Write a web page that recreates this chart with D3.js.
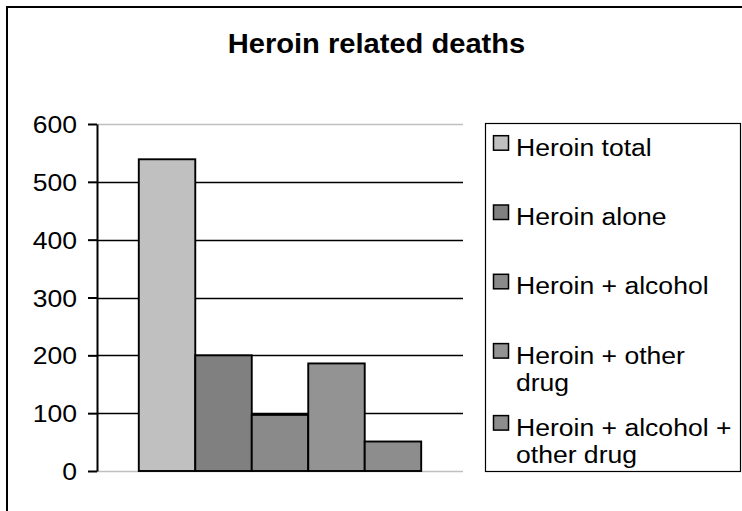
<!DOCTYPE html>
<html>
<head>
<meta charset="utf-8">
<script src="https://cdn.jsdelivr.net/npm/d3@7"></script>
<style>
  body { margin: 0; background: #fff; }
  svg { display: block; }
  text { font-family: "Liberation Sans", Arial, sans-serif; fill: #000; }
</style>
</head>
<body>
<div id="canvas"></div>
<script>
// data
var categories = ['Heroin total', 'Heroin alone', 'Heroin + alcohol', 'Heroin + other drug', 'Heroin + alcohol + other drug'];
var values = [539, 200, 97, 186, 51];
var colors = ['#c0c0c0', '#808080', '#8a8a8a', '#939393', '#8d8d8d'];
var legendLines = [['Heroin total'], ['Heroin alone'], ['Heroin + alcohol'], ['Heroin + other', 'drug'], ['Heroin + alcohol +', 'other drug']];
var yTicks = [0, 100, 200, 300, 400, 500, 600];
var title = 'Heroin related deaths';

var W = 742, H = 511,
    plot = {l: 97, r: 463, t: 124, b: 471},
    sx = 1.13; // text in the source is a bit wide

var svg = d3.select('#canvas')
  .append('svg')
  .attr('width', W)
  .attr('height', H);

// outer frame (only top + left show)
svg.append('path')
  .attr('d', 'M7,' + (H + 5) + 'V7H' + (W + 5))
  .attr('fill', 'none')
  .attr('stroke', '#000')
  .attr('stroke-width', 2);

var y = d3.scaleLinear().domain([0, 600]).range([plot.b, plot.t]);
var x = d3.scaleBand().domain(categories)
  .range([plot.l, plot.r])
  .paddingInner(0)
  .paddingOuter(0.74);

// title
svg.append('text')
  .attr('transform', 'translate(376.5,53) scale(1.04,1)')
  .attr('text-anchor', 'middle')
  .style('font-size', '28px')
  .style('font-weight', 'bold')
  .text(title);

// gridlines
svg.selectAll('.grid')
  .data(yTicks)
  .enter()
  .append('line')
    .attr('class', 'grid')
    .attr('x1', plot.l).attr('x2', plot.r)
    .attr('y1', function(d){ return Math.round(y(d)) + 0.5; })
    .attr('y2', function(d){ return Math.round(y(d)) + 0.5; })
    .attr('stroke', function(d){ return (d === 0 || d === 600) ? '#c0c0c0' : '#000'; })
    .attr('stroke-width', 1.3);

// bars
svg.selectAll('.bar')
  .data(values)
  .enter()
  .append('rect')
    .attr('class', 'bar')
    .attr('x', function(d, i){ return x(categories[i]); })
    .attr('y', function(d){ return y(d); })
    .attr('width', x.bandwidth())
    .attr('height', function(d){ return y(0) - y(d); })
    .attr('fill', function(d, i){ return colors[i]; })
    .attr('stroke', '#000')
    .attr('stroke-width', 1.9);

// y axis
var axis = svg.append('g')
  .attr('transform', 'translate(' + plot.l + ',0)')
  .call(d3.axisLeft(y).tickValues(yTicks).tickSizeOuter(0).tickSizeInner(9).tickPadding(0));
axis.select('.domain').attr('stroke', '#000').attr('stroke-width', 2);
axis.selectAll('.tick line').attr('stroke', '#000').attr('stroke-width', 2);
axis.selectAll('.tick text')
  .attr('x', null).attr('dy', null)
  .attr('transform', 'translate(-20,8.5) scale(' + sx + ',1)')
  .attr('text-anchor', 'end')
  .style('font-size', '23.5px')
  .style('font-family', '"Liberation Sans", Arial, sans-serif')
  .attr('fill', '#000');

// legend
svg.append('rect')
  .attr('x', 485.5).attr('y', 123.5)
  .attr('width', 255).attr('height', 348)
  .attr('fill', '#fff')
  .attr('stroke', '#000')
  .attr('stroke-width', 1.2);

var base = 155.7, lineGap = 27, itemGap = 69.3;
var baselines = [];
legendLines.forEach(function(l, i){
  baselines.push(base);
  base += itemGap + (l.length - 1) * 2.7;
});

var item = svg.selectAll('.legend-item')
  .data(categories)
  .enter()
  .append('g')
    .attr('class', 'legend-item')
    .attr('transform', function(d, i){ return 'translate(0,' + baselines[i] + ')'; });

item.append('rect')
  .attr('x', 493.5).attr('y', -20)
  .attr('width', 15).attr('height', 14.5)
  .attr('fill', function(d, i){ return colors[i]; })
  .attr('stroke', '#000')
  .attr('stroke-width', 1.5);

item.each(function(d, i){
  var g = d3.select(this);
  legendLines[i].forEach(function(t, j){
    g.append('text')
      .attr('transform', 'translate(516,' + (j * lineGap) + ') scale(' + sx + ',1)')
      .style('font-size', '23.5px')
      .text(t);
  });
});
</script>
</body>
</html>
